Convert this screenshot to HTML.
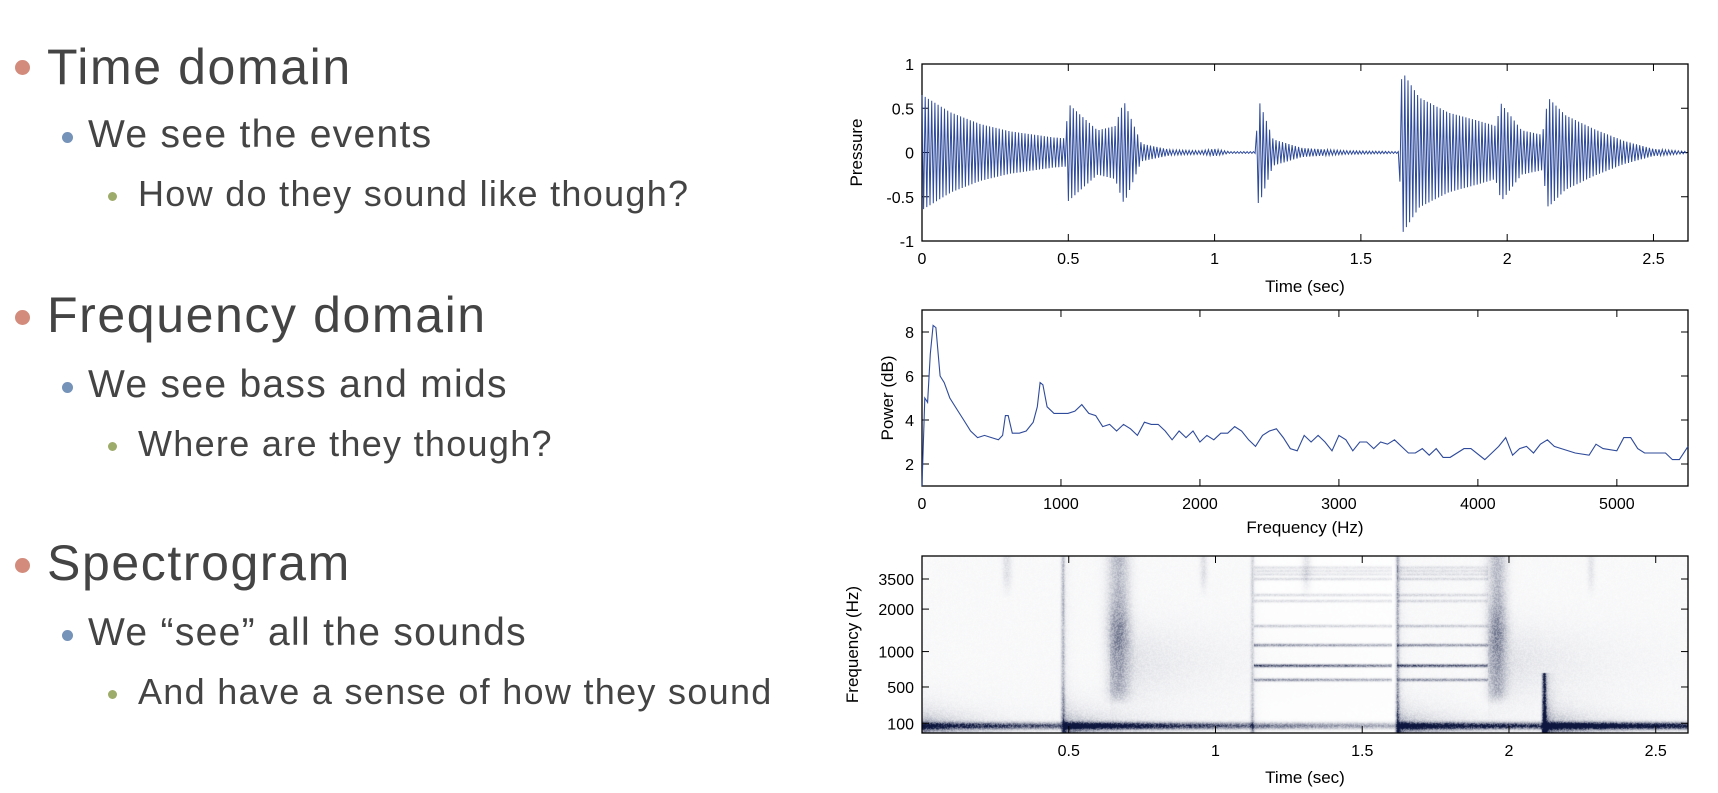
<!DOCTYPE html>
<html><head><meta charset="utf-8">
<style>
body{margin:0;width:1718px;height:793px;background:#fff;overflow:hidden;position:relative;font-family:"Liberation Sans",sans-serif}
.t{position:absolute;color:#444;white-space:nowrap;font-family:"Liberation Sans",sans-serif}
.h1{font-size:50px;letter-spacing:1.6px}
.h2{font-size:39px;letter-spacing:1.3px}
.h3{font-size:36px;letter-spacing:1.3px}
.b{position:absolute;border-radius:50%}
svg text{font-family:"Liberation Sans",sans-serif;fill:#000}
</style></head><body>
<div>
<div class="b" style="left:15px;top:60px;width:15px;height:15px;background:#d38b7b"></div>
<div class="t h1" style="left:47px;top:38px">Time domain</div>
<div class="b" style="left:62px;top:132px;width:11px;height:11px;background:#7592b8"></div>
<div class="t h2" style="left:88px;top:113px">We see the events</div>
<div class="b" style="left:108px;top:192px;width:9px;height:9px;background:#9dab6b"></div>
<div class="t h3" style="left:138px;top:173px">How do they sound like though?</div>

<div class="b" style="left:15px;top:310px;width:15px;height:15px;background:#d38b7b"></div>
<div class="t h1" style="left:47px;top:286px">Frequency domain</div>
<div class="b" style="left:62px;top:382px;width:11px;height:11px;background:#7592b8"></div>
<div class="t h2" style="left:88px;top:363px">We see bass and mids</div>
<div class="b" style="left:108px;top:442px;width:9px;height:9px;background:#9dab6b"></div>
<div class="t h3" style="left:138px;top:423px">Where are they though?</div>

<div class="b" style="left:15px;top:558px;width:15px;height:15px;background:#d38b7b"></div>
<div class="t h1" style="left:47px;top:534px">Spectrogram</div>
<div class="b" style="left:62px;top:630px;width:11px;height:11px;background:#7592b8"></div>
<div class="t h2" style="left:88px;top:611px">We “see” all the sounds</div>
<div class="b" style="left:108px;top:690px;width:9px;height:9px;background:#9dab6b"></div>
<div class="t h3" style="left:138px;top:671px">And have a sense of how they sound</div>
</div>

<canvas id="spec" width="766" height="177" style="position:absolute;left:922px;top:556px"></canvas>
<svg id="sv" width="1718" height="793" style="position:absolute;left:0;top:0"></svg>

<script>
// ---------- data ----------
const waveEnvTimes=[0,0.1,0.2,0.3,0.45,0.49,0.5,0.6,0.66,0.69,0.75,0.85,0.95,1.0,1.05,1.14,1.15,1.2,1.3,1.45,1.63,1.64,1.7,1.8,1.9,1.96,1.98,2.05,2.12,2.14,2.2,2.3,2.4,2.5,2.618];
const waveEnvAmps =[0.65,0.45,0.32,0.24,0.17,0.16,0.55,0.25,0.3,0.58,0.1,0.03,0.02,0.04,0.01,0.01,0.6,0.15,0.05,0.02,0.01,0.92,0.62,0.45,0.36,0.3,0.55,0.25,0.2,0.62,0.42,0.26,0.13,0.04,0.01];
const waveXTicks=[0,0.5,1,1.5,2,2.5];
const waveYTicks=[-1,-0.5,0,0.5,1];

const psdFreqs=[0,20,40,60,80,100,130,160,200,250,300,350,400,450,500,550,580,600,620,650,700,750,800,830,850,870,900,950,1000,1050,1100,1150,1200,1250,1300,1350,1400,1450,1500,1550,1600,1650,1700,1750,1800,1850,1900,1950,2000,2050,2100,2150,2200,2250,2300,2350,2400,2450,2500,2550,2600,2650,2700,2750,2800,2850,2900,2950,3000,3050,3100,3150,3200,3250,3300,3350,3400,3450,3500,3550,3600,3650,3700,3750,3800,3900,3950,4050,4100,4150,4200,4250,4300,4350,4400,4450,4500,4550,4600,4700,4800,4850,4900,5000,5050,5100,5150,5200,5300,5350,5400,5450,5512];
const psdPower=[1,5,4.8,7,8.3,8.2,6,5.7,5,4.5,4,3.5,3.2,3.3,3.2,3.1,3.3,4.2,4.2,3.4,3.4,3.5,3.9,4.6,5.7,5.6,4.6,4.3,4.3,4.3,4.4,4.7,4.3,4.2,3.7,3.8,3.5,3.8,3.6,3.3,3.9,3.8,3.8,3.5,3.1,3.5,3.2,3.5,3.0,3.3,3.1,3.4,3.4,3.7,3.5,3.1,2.8,3.3,3.5,3.6,3.2,2.7,2.6,3.3,3.0,3.3,3.0,2.6,3.3,3.1,2.6,3.0,3.0,2.7,3.0,2.9,3.1,2.8,2.5,2.5,2.7,2.4,2.7,2.3,2.3,2.7,2.7,2.2,2.5,2.8,3.2,2.4,2.7,2.8,2.5,2.9,3.1,2.8,2.7,2.5,2.4,2.9,2.7,2.6,3.2,3.2,2.7,2.5,2.5,2.5,2.2,2.2,2.8];
const psdXTicks=[0,1000,2000,3000,4000,5000];
const psdYTicks=[2,4,6,8];

// spectrogram components
const strikeTimes=[0.0,0.48,1.62,2.12];
const strikeDecay=[1.2,0.45,1.3,0.7];
const onsetTimes=[0.48,1.125,1.62,2.12];
const onsetTop=[5500,5500,5500,700];
const onsetAmp=[0.22,0.12,0.25,0.7];
const blobCenter=[0.67,1.96,0.29,0.96,1.31,2.28];
const blobWidth=[0.035,0.03,0.015,0.012,0.015,0.012];
const blobLow=[300,300,2500,2500,2500,2500];
const blobAmp=[0.42,0.42,0.1,0.1,0.1,0.08];
const tailStart=[0.64,1.93];
const tailAmp=[0.12,0.12];
const harmFreqs=[600,800,1150,1600,2400,2700,3500,3900,4200,4500];
const harmAmps=[0.45,0.75,0.45,0.22,0.15,0.15,0.15,0.12,0.12,0.12];
const harmStart=[1.13,1.62];
const harmEnd=[1.6,1.93];
const specXTicks=[0.5,1,1.5,2,2.5];
const specYTicks=[100,500,1000,2000,3500];
const specScaleFreqs=[0,100,500,1000,2000,3500,5512];
const specScaleFrac=[0,0.055,0.26,0.46,0.70,0.87,1];

// ---------- helpers ----------
const NS='http://www.w3.org/2000/svg';
const sv=document.getElementById('sv');
function mk(tag,attrs,parent){const e=document.createElementNS(NS,tag);for(const k in attrs)e.setAttribute(k,attrs[k]);(parent||sv).appendChild(e);return e;}
function interp(xs,ys,x){if(x<=xs[0])return ys[0];for(let i=1;i<xs.length;i++){if(x<=xs[i]){const f=(x-xs[i-1])/(xs[i]-xs[i-1]);return ys[i-1]+f*(ys[i]-ys[i-1]);}}return ys[ys.length-1];}
const L=922,R=1688,W=R-L;
function axes(name,top,bot,xt,xf,yt,yf,fmtX){
  const g=mk('g',{});
  
  
  mk('rect',{x:L,y:top,width:W,height:bot-top,fill:'none',stroke:'#000','stroke-width':1.3},g);
  xt.forEach(v=>{const x=xf(v);
    mk('line',{x1:x,y1:bot,x2:x,y2:bot-7,stroke:'#000'},g);
    mk('line',{x1:x,y1:top,x2:x,y2:top+7,stroke:'#000'},g);
    const t=mk('text',{x:x,y:bot+23,'text-anchor':'middle','font-size':16},g);t.textContent=fmtX(v);
    
    });
  yt.forEach(v=>{const y=yf(v);
    mk('line',{x1:L,y1:y,x2:L+7,y2:y,stroke:'#000'},g);
    mk('line',{x1:R,y1:y,x2:R-7,y2:y,stroke:'#000'},g);
    const t=mk('text',{x:L-8,y:y+6,'text-anchor':'end','font-size':16},g);t.textContent=String(v);
    
    });
  return g;
}
function title(txt,x,y,rot,name){const t=mk('text',{x:x,y:y,'text-anchor':'middle','font-size':17,transform:rot?`rotate(-90 ${x} ${y})`:''});t.textContent=txt;
  
  }

// ---------- chart 1: waveform ----------
(function(){
 const top=64,bot=241,tmax=2.618;
 const xf=t=>L+t/tmax*W, yf=v=>top+(1-v)/2*(bot-top);
 axes('waveform',top,bot,waveXTicks,xf,waveYTicks,yf,v=>String(v));
 let d='',k=0;
 for(let t=0;t<=tmax;t+=0.0055){const a=interp(waveEnvTimes,waveEnvAmps,t);const s=(k%2?-1:1)*a;d+=(k?'L':'M')+xf(t).toFixed(1)+','+yf(s).toFixed(1);k++;}
 const p=mk('path',{d:d,fill:'none',stroke:'#2e4a9a','stroke-width':1});
 
 
 title('Time (sec)',(L+R)/2,292,false,'x-axis-title');
 title('Pressure',862,(top+bot)/2,true,'y-axis-title');
})();

// ---------- chart 2: power spectrum ----------
(function(){
 const top=310,bot=486,fmax=5512;
 const xf=f=>L+f/fmax*W, yf=v=>bot-(v-1)/8*(bot-top);
 axes('spectrum',top,bot,psdXTicks,xf,psdYTicks,yf,v=>String(v));
 const d=psdFreqs.map((f,i)=>(i?'L':'M')+xf(f).toFixed(1)+','+yf(psdPower[i]).toFixed(1)).join('');
 const p=mk('path',{d:d,fill:'none',stroke:'#2e4a9a','stroke-width':1.1});
 
 
 title('Frequency (Hz)',(L+R)/2,533,false,'x-axis-title');
 title('Power (dB)',893,(top+bot)/2,true,'y-axis-title');
})();

// ---------- chart 3: spectrogram ----------
(function(){
 const top=556,bot=733,H=bot-top,tmax=2.61;
 const xf=t=>L+t/tmax*W;
 const yfrac=f=>interp(specScaleFreqs,specScaleFrac,f);
 const yf=f=>bot-yfrac(f)*H;
 const cv=document.getElementById('spec'),ctx=cv.getContext('2d');
 const img=ctx.createImageData(W,H);
 const fOfRow=r=>interp(specScaleFrac,specScaleFreqs,1-(r+0.5)/H);
 function hash(a,b){let h=(a*374761393+b*668265263)|0;h=(h^(h>>>13))*1274126177|0;return ((h^(h>>>16))>>>0)/4294967295;}
 for(let c=0;c<W;c++){
  const t=(c+0.5)/W*tmax;
  for(let r=0;r<H;r++){
   const f=fOfRow(r),yr=1-(r+0.5)/H;
   let I=0.025;
   if(t>1.13&&t<1.62)I=0.005;
   for(let i=0;i<strikeTimes.length;i++){const dt=t-strikeTimes[i];if(dt<0)continue;
     const env=Math.exp(-dt/strikeDecay[i]);
     const band=Math.exp(-Math.pow((yr-0.04)/0.017,2));
     const spread=Math.exp(-Math.max(0,yr-0.04)/0.06)*Math.exp(-dt/0.15)*0.45;
     I+=env*band*0.95+spread;}
   for(let i=0;i<onsetTimes.length;i++){const dt=t-onsetTimes[i];
     if(f<=onsetTop[i]){const w=Math.exp(-Math.pow(dt/0.006,2))+(dt>0?Math.exp(-dt/0.012)*0.4:0);
       I+=onsetAmp[i]*w*(1+2*Math.exp(-yr/0.12));}}
   for(let i=0;i<blobCenter.length;i++){const dt=(t-blobCenter[i])/blobWidth[i];
     const fw=Math.min(1,Math.max(0,(f-blobLow[i])/(blobLow[i]*0.5)));
     let a=blobAmp[i]*Math.exp(-dt*dt)*fw;
     if(blobAmp[i]>0.3)a*=0.6+0.4*Math.exp(-Math.pow((yr-0.58)/0.14,2));I+=a;}
   for(let i=0;i<tailStart.length;i++){const dt=t-tailStart[i];if(dt>0)I+=tailAmp[i]*Math.exp(-dt/0.25)*Math.exp(-Math.pow((yr-0.4)/0.2,2));}
   for(let s=0;s<harmStart.length;s++){if(t>=harmStart[s]&&t<=harmEnd[s]){
     const fade=Math.exp(-(t-harmStart[s])/1.2);
     for(let h=0;h<harmFreqs.length;h++){const dy=(yr-yfrac(harmFreqs[h]))*H;I+=harmAmps[h]*fade*Math.exp(-dy*dy/2.0);}}}
   I*=0.65+0.7*hash(c,r);
   I=Math.min(1,I);
   const o=(r*W+c)*4;
   img.data[o]=255-I*(255-12);img.data[o+1]=255-I*(255-22);img.data[o+2]=255-I*(255-62);img.data[o+3]=255;
  }
 }
 ctx.putImageData(img,0,0);
 axes('spectrogram',top,bot,specXTicks,xf,specYTicks,yf,v=>String(v));
 title('Time (sec)',(L+R)/2,783,false,'x-axis-title');
 title('Frequency (Hz)',858,(top+bot)/2,true,'y-axis-title');
})();
</script>
</body></html>
